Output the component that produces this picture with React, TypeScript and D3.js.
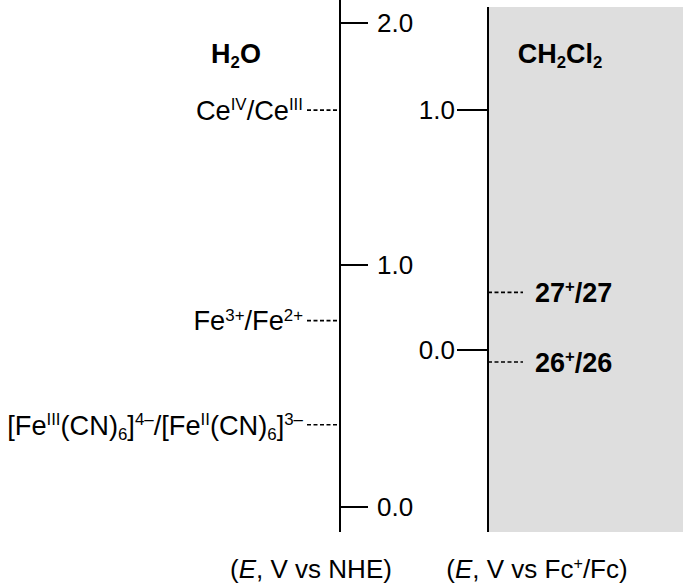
import React from "react";
import * as d3 from "d3";

type Seg = [string, "" | "sup" | "sub"];

const nheTicks = [0, 1, 2];
const fcTicks = [0, 1];

const nheValues = [1.64, 0.77, 0.34];
const nheLabels: Seg[][] = [
  [["Ce", ""], ["IV", "sup"], ["/Ce", ""], ["III", "sup"]],
  [["Fe", ""], ["3+", "sup"], ["/Fe", ""], ["2+", "sup"]],
  [["[Fe", ""], ["III", "sup"], ["(CN)", ""], ["6", "sub"], ["]", ""], ["4–", "sup"], ["/[Fe", ""], ["II", "sup"], ["(CN)", ""], ["6", "sub"], ["]", ""], ["3–", "sup"]],
];

const fcValues = [0.24, -0.05];
const fcLabels: Seg[][] = [
  [["27", ""], ["+", "sup"], ["/27", ""]],
  [["26", ""], ["+", "sup"], ["/26", ""]],
];

const leftTitle: Seg[] = [["H", ""], ["2", "sub"], ["O", ""]];
const rightTitle: Seg[] = [["CH", ""], ["2", "sub"], ["Cl", ""], ["2", "sub"]];
const leftAxisLabel: Seg[] = [["(", ""], ["E", ""], [", V vs NHE)", ""]];
const rightAxisLabel: Seg[] = [["(", ""], ["E", ""], [", V vs Fc", ""], ["+", "sup"], ["/Fc)", ""]];

const FONT = "'Liberation Sans', Arial, sans-serif";

function Rich({ segs, fs, italicIdx = -1 }: { segs: Seg[]; fs: number; italicIdx?: number }) {
  const out: React.ReactNode[] = [];
  let cur = 0;
  segs.forEach(([t, k], i) => {
    const target = k === "sup" ? -0.36 * fs : k === "sub" ? 0.2 * fs : 0;
    const dy = target - cur;
    cur = target;
    out.push(
      <tspan key={i} dy={dy} fontSize={k ? fs * 0.62 : fs} fontStyle={i === italicIdx ? "italic" : undefined}>
        {t}
      </tspan>
    );
  });
  return <>{out}</>;
}

export default function App() {
  const W = 685, H = 586;
  const xL = 340;
  const xR = 488;
  const yL = d3.scaleLinear().domain([0, 2]).range([507, 23]);
  const yR = d3.scaleLinear().domain([0, 1]).range([350, 110]);
  const fmt = d3.format(".1f");
  const FS_TICK = 26, FS_LAB = 27.2, FS_TITLE = 27, FS_CAP = 26, FS_FC = 27;

  return (
    <svg width={W} height={H} style={{ position: "absolute", left: 0, top: 0 }} fontFamily={FONT}>
      <rect x={0} y={0} width={W} height={H} fill="#fff" />
      <rect x={xR} y={7} width={683 - xR} height={532 - 7} fill="#dedede" />

      {/* left axis (NHE) */}
      <line x1={xL} x2={xL} y1={0} y2={532} stroke="#000" strokeWidth={2} />
      {nheTicks.map((t) => (
        <g key={t}>
          <line x1={xL} x2={xL + 28} y1={yL(t)} y2={yL(t)} stroke="#000" strokeWidth={2} />
          <text x={xL + 37} y={yL(t)} dy="0.36em" fontSize={FS_TICK} fill="#000">{fmt(t)}</text>
        </g>
      ))}
      {nheValues.map((v, i) => (
        <g key={i}>
          <line x1={xL - 33} x2={xL} y1={yL(v)} y2={yL(v)} stroke="#000" strokeWidth={1.6} strokeDasharray="4,2.5" />
          <text x={xL - 37} y={yL(v) + 0.36 * FS_LAB} textAnchor="end" fill="#000">
            <Rich segs={nheLabels[i]} fs={FS_LAB} />
          </text>
        </g>
      ))}
      <text x={236} y={63} textAnchor="middle" fontWeight="bold" fill="#000">
        <Rich segs={leftTitle} fs={FS_TITLE} />
      </text>

      {/* right axis (Fc) */}
      <line x1={xR} x2={xR} y1={7} y2={532} stroke="#000" strokeWidth={2} />
      {fcTicks.map((t) => (
        <g key={t}>
          <line x1={xR - 31} x2={xR} y1={yR(t)} y2={yR(t)} stroke="#000" strokeWidth={2} />
          <text x={xR - 33} y={yR(t)} dy="0.36em" textAnchor="end" fontSize={FS_TICK} fill="#000">{fmt(t)}</text>
        </g>
      ))}
      {fcValues.map((v, i) => (
        <g key={i}>
          <line x1={xR} x2={xR + 35} y1={yR(v)} y2={yR(v)} stroke="#000" strokeWidth={1.6} strokeDasharray="4,2.5" />
          <text x={xR + 47} y={yR(v) + 0.36 * FS_FC} fontWeight="bold" fill="#000">
            <Rich segs={fcLabels[i]} fs={FS_FC} />
          </text>
        </g>
      ))}
      <text x={560} y={63} textAnchor="middle" fontWeight="bold" fill="#000">
        <Rich segs={rightTitle} fs={FS_TITLE} />
      </text>

      {/* axis captions */}
      <text x={311} y={578} textAnchor="middle" fill="#000">
        <Rich segs={leftAxisLabel} fs={FS_CAP} italicIdx={1} />
      </text>
      <text x={537} y={578} textAnchor="middle" fill="#000">
        <Rich segs={rightAxisLabel} fs={FS_CAP} italicIdx={1} />
      </text>
    </svg>
  );
}
